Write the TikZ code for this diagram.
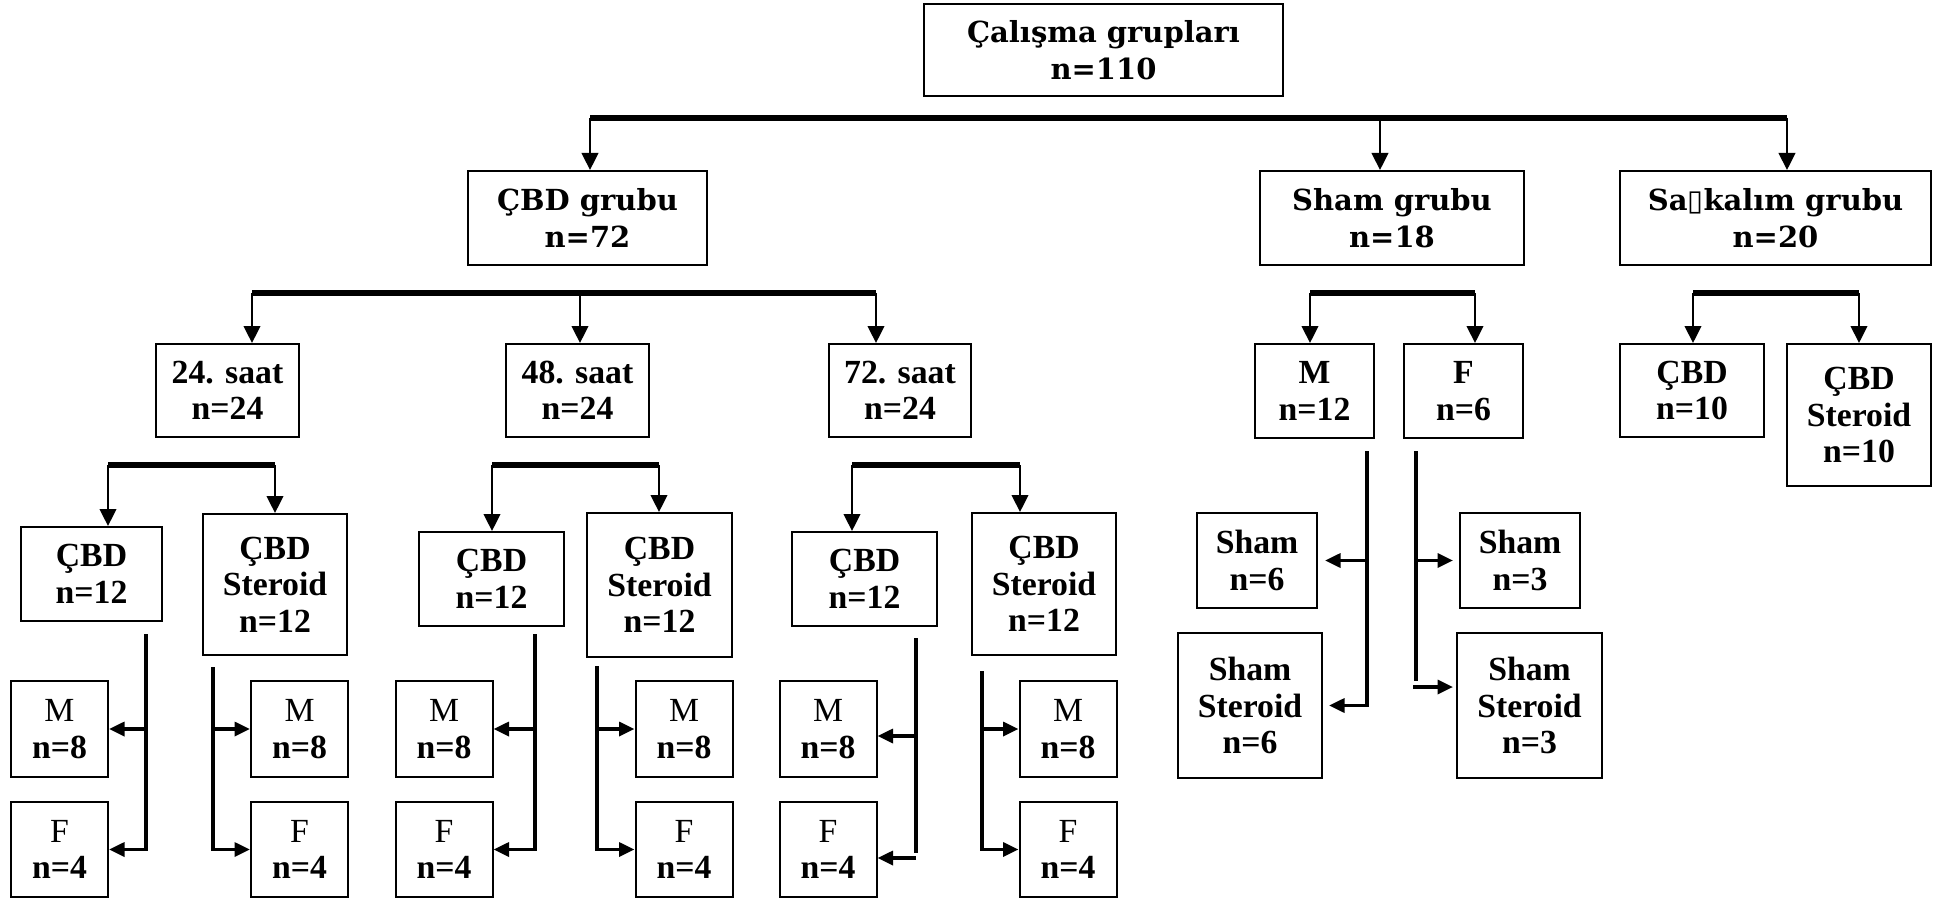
\documentclass[tikz,border=0pt]{standalone}
\usepackage{fontspec}
\setmainfont{Liberation Serif}
\newfontfamily\bkfont{DejaVu Serif}
\newfontfamily\djsans{DejaVu Sans}
\usetikzlibrary{arrows.meta}
\tikzset{
  bx/.style={draw, line width=0.8pt, align=center, inner sep=0pt},
  wh/.style 2 args={minimum width=#1*0.4pt, minimum height=#2*0.4pt},
  topfont/.style={font=\bkfont\bfseries\fontsize{11.6}{14.8}\selectfont},
  tfont/.style={font=\bfseries\fontsize{13.5}{14.6}\selectfont},
  rfont/.style={font=\fontsize{13.5}{14.6}\selectfont},
  bus/.style={line width=2.4pt},
  drop/.style={line width=1pt, -{Triangle[width=6.6pt,length=6.8pt]}},
  side/.style={line width=1.3pt},
  sidearr/.style={line width=1.3pt, -{Triangle[width=5.6pt,length=6.2pt]}},
}
\begin{document}
\begin{tikzpicture}[x=0.4pt, y=-0.4pt]
\useasboundingbox (0,0) rectangle (1945,899);
% level 1
\node[bx, topfont, wh={359}{92}] (top) at (1103.5,50) {Çalışma grupları\\n=110};
\node[bx, topfont, wh={239}{94}] (cbdg) at (587.5,218) {ÇBD grubu\\n=72};
\node[bx, topfont, wh={264}{94}] (shamg) at (1392,218) {Sham grubu\\n=18};
\node[bx, topfont, wh={311}{94}] (sagg) at (1775.5,218) {Sa{\djsans\mdseries ▯}kalım grubu\\n=20};
% level 2
\node[bx, tfont, wh={143}{93}] (s24) at (227.5,390.5) {24. saat\\n=24};
\node[bx, tfont, wh={143}{93}] (s48) at (577.5,390.5) {48. saat\\n=24};
\node[bx, tfont, wh={142}{93}] (s72) at (900,390.5) {72. saat\\n=24};
\node[bx, tfont, wh={119}{94}] (shM) at (1314.5,391) {M\\n=12};
\node[bx, tfont, wh={119}{94}] (shF) at (1463.5,391) {F\\n=6};
\node[bx, tfont, wh={144}{93}] (sgC) at (1692,390.5) {ÇBD\\n=10};
\node[bx, tfont, wh={144}{142}] (sgCS) at (1859,415) {ÇBD\\Steroid\\n=10};
% level 3
\node[bx, tfont, wh={141}{94}] (cbd24) at (91.5,574) {ÇBD\\n=12};
\node[bx, tfont, wh={144}{141}] (cs24) at (275,584.5) {ÇBD\\Steroid\\n=12};
\node[bx, tfont, wh={145}{94}] (cbd48) at (491.5,579) {ÇBD\\n=12};
\node[bx, tfont, wh={145}{144}] (cs48) at (659.5,585) {ÇBD\\Steroid\\n=12};
\node[bx, tfont, wh={145}{94}] (cbd72) at (864.5,579) {ÇBD\\n=12};
\node[bx, tfont, wh={144}{142}] (cs72) at (1044,584) {ÇBD\\Steroid\\n=12};
% level 4
\foreach \nm/\cx in {24l/59.5, 24r/299.5, 48l/444, 48r/684, 72l/828, 72r/1068}{
  \node[bx, rfont, wh={97}{96}] (m\nm) at (\cx,729) {M\\{\bfseries n=8}};
  \node[bx, rfont, wh={97}{95}] (f\nm) at (\cx,849.5) {F\\{\bfseries n=4}};
}
% sham children
\node[bx, tfont, wh={120}{95}] (sh6) at (1257,560.5) {Sham\\n=6};
\node[bx, tfont, wh={144}{145}] (shs6) at (1250,705.5) {Sham\\Steroid\\n=6};
\node[bx, tfont, wh={120}{95}] (sh3) at (1520,560.5) {Sham\\n=3};
\node[bx, tfont, wh={145}{145}] (shs3) at (1529.5,705.5) {Sham\\Steroid\\n=3};

% top bus
\coordinate (t1) at (590,118);
\coordinate (t2) at (1380,118);
\coordinate (t3) at (1787,118);
\draw[bus] (t1) -- (t3);
\draw[drop] (t1) -- (t1 |- cbdg.north);
\draw[drop] (t2) -- (t2 |- shamg.north);
\draw[drop] (t3) -- (t3 |- sagg.north);
% CBD bus
\coordinate (c1) at (252,293);
\coordinate (c2) at (580,293);
\coordinate (c3) at (876,293);
\draw[bus] (c1) -- (c3);
\draw[drop] (c1) -- (c1 |- s24.north);
\draw[drop] (c2) -- (c2 |- s48.north);
\draw[drop] (c3) -- (c3 |- s72.north);
% Sham bus
\coordinate (h1) at (1310,293);
\coordinate (h2) at (1475,293);
\draw[bus] (h1) -- (h2);
\draw[drop] (h1) -- (h1 |- shM.north);
\draw[drop] (h2) -- (h2 |- shF.north);
% Sagkalim bus
\coordinate (g1) at (1693,293);
\coordinate (g2) at (1859,293);
\draw[bus] (g1) -- (g2);
\draw[drop] (g1) -- (g1 |- sgC.north);
\draw[drop] (g2) -- (g2 |- sgCS.north);
% level 3 buses
\coordinate (a1) at (108,465);
\coordinate (a2) at (275,465);
\draw[bus] (a1) -- (a2);
\draw[drop] (a1) -- (a1 |- cbd24.north);
\draw[drop] (a2) -- (a2 |- cs24.north);
\coordinate (b1) at (492,465);
\coordinate (b2) at (659,465);
\draw[bus] (b1) -- (b2);
\draw[drop] (b1) -- (b1 |- cbd48.north);
\draw[drop] (b2) -- (b2 |- cs48.north);
\coordinate (d1) at (852,465);
\coordinate (d2) at (1020,465);
\draw[bus] (d1) -- (d2);
\draw[drop] (d1) -- (d1 |- cbd72.north);
\draw[drop] (d2) -- (d2 |- cs72.north);
% side connectors 24
\coordinate (v24l) at (146,634);
\draw[sidearr] (v24l) |- (f24l.east);
\draw[sidearr] (v24l |- m24l.east) -- (m24l.east);
\coordinate (v24r) at (213,667);
\draw[sidearr] (v24r) |- (f24r.west);
\draw[sidearr] (v24r |- m24r.west) -- (m24r.west);
% 48
\coordinate (v48l) at (535,634);
\draw[sidearr] (v48l) |- (f48l.east);
\draw[sidearr] (v48l |- m48l.east) -- (m48l.east);
\coordinate (v48r) at (597,666);
\draw[sidearr] (v48r) |- (f48r.west);
\draw[sidearr] (v48r |- m48r.west) -- (m48r.west);
% 72
\coordinate (v72l) at (916,638);
\coordinate (v72lb) at (916,853);
\coordinate (v72lm) at (916,736);
\coordinate (v72lf) at (916,858);
\draw[side] (v72l) -- (v72lb);
\draw[sidearr] (v72lm) -- (v72lm -| m72l.east);
\draw[sidearr] (v72lf) -- (v72lf -| f72l.east);
\coordinate (v72r) at (982,671);
\draw[sidearr] (v72r) |- (f72r.west);
\draw[sidearr] (v72r |- m72r.west) -- (m72r.west);
% sham sides
\coordinate (vm) at (1367,451);
\draw[sidearr, shorten >=2.4pt] (vm) |- (shs6.east);
\draw[sidearr, shorten >=2.8pt] (vm |- sh6.east) -- (sh6.east);
\coordinate (vf) at (1416,451);
\coordinate (vfb) at (1416,681);
\coordinate (vfa) at (1413,687);
\draw[side] (vf) -- (vfb);
\draw[sidearr, shorten >=2.4pt] (vf |- sh3.west) -- (sh3.west);
\draw[sidearr, shorten >=1.2pt] (vfa) -- (vfa -| shs3.west);
\end{tikzpicture}
\end{document}
